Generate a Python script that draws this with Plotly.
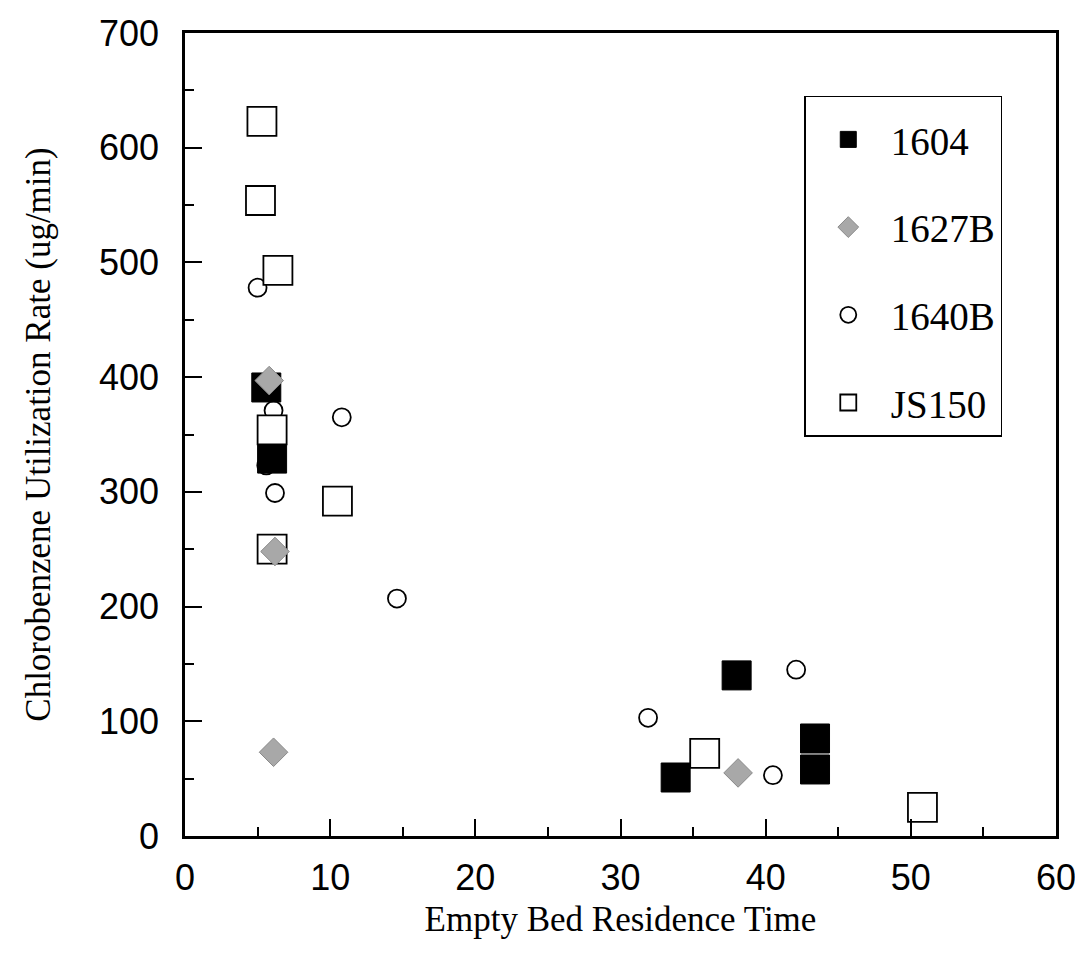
import plotly.graph_objects as go

# ---- data ----
s1604_x = [5.6, 6.0, 33.8, 38.0, 43.4, 43.4]
s1604_y = [391, 329, 51, 140, 85, 58]

s1627b_x = [5.8, 6.2, 6.1, 38.1]
s1627b_y = [397, 248, 73, 55]

s1640b_x = [5.0, 6.1, 5.6, 6.2, 10.8, 14.6, 31.9, 42.1, 40.5]
s1640b_y = [478, 371, 323, 299, 365, 207, 103, 145, 53]

js150_x = [5.3, 5.2, 6.4, 6.0, 10.5, 6.0, 35.8, 50.8]
js150_y = [623, 554, 493, 354, 292, 250, 72, 25]

x_ticks = [0, 10, 20, 30, 40, 50, 60]
y_ticks = [0, 100, 200, 300, 400, 500, 600, 700]

serif = "Liberation Serif, Times New Roman, serif"
sans = "Liberation Sans, Arial, Helvetica, sans-serif"

fig = go.Figure()
fig.add_trace(go.Scatter(
    x=s1604_x, y=s1604_y, mode="markers", name="1604", legendrank=1,
    legendgroup="a",
    marker=dict(symbol="square", size=29, color="black",
                line=dict(color="black", width=1))))
fig.add_trace(go.Scatter(
    x=s1640b_x, y=s1640b_y, mode="markers", name="1640B", legendrank=3,
    legendgroup="c",
    marker=dict(symbol="circle", size=18, color="rgba(0,0,0,0)",
                line=dict(color="black", width=1.8))))
fig.add_trace(go.Scatter(
    x=js150_x, y=js150_y, mode="markers", name="JS150", legendrank=4,
    legendgroup="d",
    marker=dict(symbol="square", size=29, color="white",
                line=dict(color="black", width=1.8))))
fig.add_trace(go.Scatter(
    x=s1627b_x, y=s1627b_y, mode="markers", name="1627B", legendrank=2,
    legendgroup="b",
    marker=dict(symbol="diamond", size=22, color="#a8a8a8",
                line=dict(color="#8a8a8a", width=1))))

fig.update_layout(
    width=1083, height=959,
    margin=dict(l=177, r=35, t=25, b=131),
    paper_bgcolor="white", plot_bgcolor="white",
    showlegend=True,
    legend=dict(
        x=0.711, y=0.922, xanchor="left", yanchor="top",
        bgcolor="white", bordercolor="black", borderwidth=1.5,
        font=dict(family=serif, size=39, color="black"),
        traceorder="grouped", tracegroupgap=34, itemwidth=75,
        entrywidth=168, entrywidthmode="pixels",
        itemsizing="trace",
        title=dict(text=" ", font=dict(size=8)),
    ),
)

fig.update_xaxes(
    range=[0, 60], tickvals=x_ticks, ticks="inside", ticklen=17, tickwidth=1.5,
    tickcolor="black", minor=dict(dtick=5, ticks="inside", ticklen=9,
                                  tickwidth=1.5, tickcolor="black"),
    showgrid=False, zeroline=False, showline=True, linecolor="black",
    linewidth=2.5, mirror=True, ticklabelstandoff=8, automargin=False,
    tickfont=dict(family=sans, size=36, color="black"),
    title=dict(text="Empty Bed Residence Time", standoff=10,
               font=dict(family=serif, size=35, color="black")),
)
fig.update_yaxes(
    range=[0, 700], tickvals=y_ticks, ticks="inside", ticklen=17, tickwidth=1.5,
    tickcolor="black", minor=dict(dtick=50, ticks="inside", ticklen=9,
                                  tickwidth=1.5, tickcolor="black"),
    showgrid=False, zeroline=False, showline=True, linecolor="black",
    linewidth=2.5, mirror=True, ticklabelstandoff=16, automargin=False,
    tickfont=dict(family=sans, size=36, color="black"),
    title=dict(text="Chlorobenzene Utilization Rate (ug/min)", standoff=38,
               font=dict(family=serif, size=35, color="black")),
)

fig.write_html("out.html")
